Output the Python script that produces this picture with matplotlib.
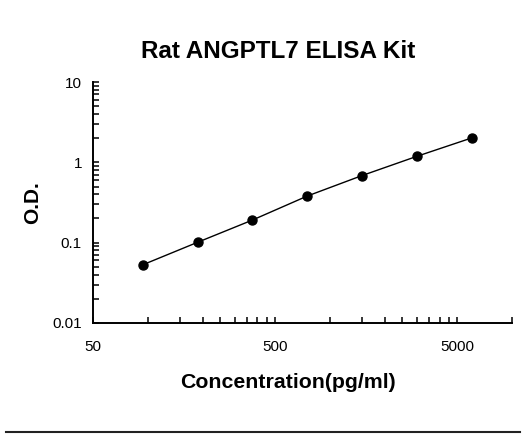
import matplotlib
matplotlib.use("Agg")
import matplotlib.pyplot as plt
from matplotlib.ticker import FixedLocator, NullFormatter, FixedFormatter, LogLocator
from matplotlib.lines import Line2D

plt.rcParams['font.family'] = ['Liberation Sans', 'DejaVu Sans']

title = "Rat ANGPTL7 ELISA Kit"
xlabel = "Concentration(pg/ml)"
ylabel = "O.D."
concentration = [93.75, 187.5, 375, 750, 1500, 3000, 6000]
od = [0.053, 0.101, 0.191, 0.380, 0.684, 1.187, 2.01]
x_major = [50, 500, 5000]
x_major_labels = ["50", "500", "5000"]
x_minor = [100, 150, 200, 250, 300, 350, 400, 450,
           1000, 1500, 2000, 2500, 3000, 3500, 4000, 4500, 10000]
y_major = [0.01, 0.1, 1, 10]
y_major_labels = ["0.01", "0.1", "1", "10"]

W, H = 527, 434
fig = plt.figure(figsize=(W / 100, H / 100), dpi=100)
fig.patch.set_facecolor('white')
ax = fig.add_axes([93 / W, (H - 323) / H, (512 - 93) / W, (323 - 82) / H])

ax.plot(concentration, od, color='black', lw=1.0, marker='o', ms=6.5,
        mfc='black', mec='black', zorder=3)
ax.set_xscale('log')
ax.set_yscale('log')
ax.set_xlim(50, 10000)
ax.set_ylim(0.01, 10)

for s in ['top', 'right']:
    ax.spines[s].set_visible(False)
for s in ['left', 'bottom']:
    ax.spines[s].set_linewidth(1.4)
    ax.spines[s].set_color('black')

ax.xaxis.set_major_locator(FixedLocator(x_major))
ax.xaxis.set_major_formatter(FixedFormatter(x_major_labels))
ax.xaxis.set_minor_locator(FixedLocator(x_minor))
ax.xaxis.set_minor_formatter(NullFormatter())
ax.yaxis.set_major_locator(FixedLocator(y_major))
ax.yaxis.set_major_formatter(FixedFormatter(y_major_labels))
ax.yaxis.set_minor_locator(LogLocator(base=10, subs=range(2, 10)))
ax.yaxis.set_minor_formatter(NullFormatter())

ax.tick_params(axis='both', which='both', direction='in', length=4.5,
               width=1.1, color='black', labelsize=11)
ax.tick_params(axis='x', which='major', pad=12)
ax.tick_params(axis='y', which='major', pad=8)

fig.text(278.5 / W, (H - 58.3) / H, title, ha='center', va='baseline',
         fontsize=17.5, fontweight='bold')
fig.text(287.5 / W, (H - 388) / H, xlabel, ha='center', va='baseline',
         fontsize=15.3, fontweight='bold')
fig.text(38 / W, (H - 203) / H, ylabel, ha='center', va='baseline',
         rotation=90, rotation_mode='anchor', fontsize=15, fontweight='bold')

fig.add_artist(Line2D([6 / W, 520 / W], [(H - 432) / H, (H - 432) / H],
                      transform=fig.transFigure, color='#222222', lw=1.5))

fig.savefig('out.png', dpi=100, facecolor='white')
